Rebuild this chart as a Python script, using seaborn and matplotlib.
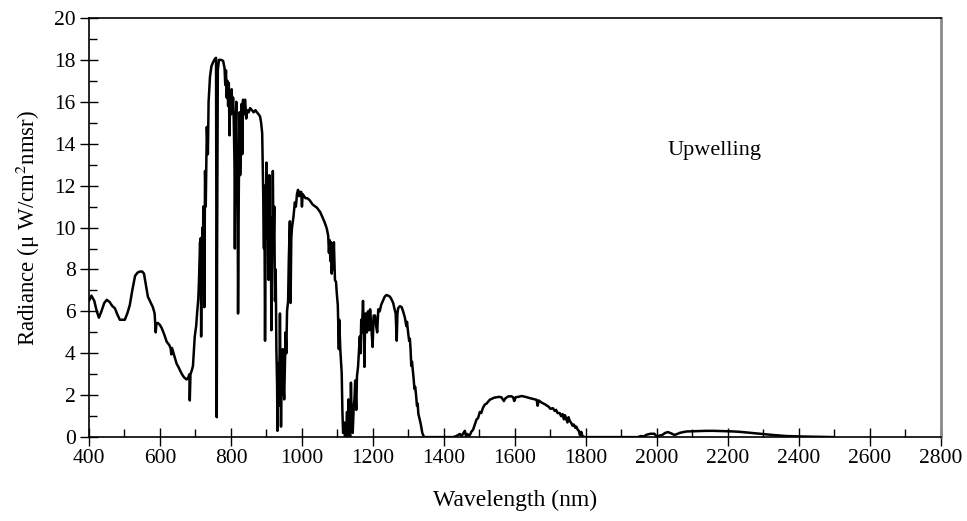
import matplotlib
matplotlib.use("Agg")
import matplotlib.pyplot as plt
from matplotlib.ticker import MultipleLocator
import pandas as pd
import seaborn as sns

# Upwelling spectral radiance, read as (wavelength nm, radiance)
wavelength = [
    400, 407, 415, 422, 428, 435, 443, 450, 458, 466, 473, 480, 487, 494, 501, 508,
    515, 522, 530, 537, 543, 550, 555, 560, 566, 573, 580, 585, 588, 590, 594, 600,
    605, 612, 619, 626, 630, 632, 634, 640, 647, 652, 656, 662, 668, 675, 680, 683,
    684, 686, 690, 693, 696, 698, 702, 705, 708, 710, 712, 713, 714, 715, 716, 718,
    720, 721, 722, 724, 725, 727, 729, 732, 735, 737, 741, 745, 750, 755, 758, 759,
    760, 761, 763, 766, 772, 778, 782, 784, 786, 788, 790, 792, 794, 796, 798, 800,
    802, 804, 806, 808, 810, 811, 813, 815, 817, 819, 820, 822, 824, 826, 828, 830,
    832, 834, 836, 838, 840, 843, 846, 850, 854, 859, 864, 869, 873, 878, 882, 885,
    888, 890, 891, 893, 894, 896, 898, 900, 902, 904, 906, 908, 910, 912, 914, 916,
    918, 920, 922, 924, 926, 928, 930, 931, 933, 935, 937, 938, 940, 941, 943, 946,
    948, 950, 952, 954, 956, 958, 961, 963, 966, 968, 970, 972, 976, 980, 983, 986,
    989, 992, 995, 998, 1000, 1002, 1006, 1010, 1015, 1022, 1030, 1038, 1042, 1051, 1059, 1065,
    1070, 1074, 1076, 1078, 1080, 1082, 1084, 1086, 1088, 1090, 1093, 1096, 1098, 1101, 1104, 1105,
    1108, 1112, 1114, 1116, 1119, 1121, 1124, 1127, 1129, 1131, 1133, 1136, 1138, 1140, 1143, 1146,
    1148, 1150, 1153, 1155, 1158, 1161, 1163, 1165, 1167, 1169, 1172, 1174, 1176, 1178, 1179, 1181,
    1183, 1185, 1186, 1189, 1192, 1195, 1199, 1202, 1206, 1209, 1212, 1215, 1219, 1223, 1228, 1233,
    1238, 1243, 1248, 1253, 1257, 1261, 1264, 1267, 1269, 1271, 1276, 1281, 1285, 1290, 1294, 1296,
    1299, 1302, 1304, 1306, 1308, 1310, 1314, 1317, 1319, 1321, 1324, 1326, 1328, 1331, 1335, 1339,
    1344, 1380, 1426, 1435, 1440, 1445, 1450, 1455, 1459, 1462, 1466, 1470, 1473, 1477, 1482, 1487,
    1492, 1496, 1501, 1505, 1510, 1515, 1520, 1525, 1529, 1535, 1541, 1548, 1555, 1562, 1566, 1569,
    1573, 1581, 1590, 1595, 1598, 1602, 1609, 1619, 1630, 1642, 1652, 1661, 1664, 1667, 1675, 1685,
    1695, 1700, 1707, 1712, 1716, 1720, 1726, 1730, 1734, 1738, 1741, 1744, 1748, 1751, 1755, 1758,
    1762, 1766, 1770, 1773, 1777, 1780, 1783, 1787, 1790, 1797, 1850, 1946, 1955, 1962, 1972, 1982,
    1993, 1998, 2003, 2008, 2015, 2023, 2031, 2040, 2050, 2057, 2064, 2074, 2084, 2100, 2112, 2125,
    2140, 2160, 2178, 2195, 2216, 2235, 2253, 2270, 2290, 2310, 2328, 2345, 2366, 2385, 2403, 2420,
    2441, 2470, 2497,
]
radiance = [
    6.5, 6.75, 6.5, 6.0, 5.7, 6.0, 6.4, 6.55, 6.45, 6.25, 6.15, 5.85, 5.6, 5.6, 5.6, 5.9,
    6.3, 7.0, 7.7, 7.85, 7.9, 7.9, 7.8, 7.3, 6.7, 6.45, 6.2, 5.9, 5.0, 5.4, 5.45, 5.35,
    5.2, 4.9, 4.55, 4.4, 4.25, 3.95, 4.25, 3.9, 3.5, 3.35, 3.2, 3.0, 2.85, 2.75, 2.85, 3.0,
    1.75, 3.0, 3.2, 3.4, 4.2, 4.8, 5.3, 6.0, 6.6, 7.5, 8.6, 9.3, 8.5, 9.5, 4.8, 8.8,
    10.0, 7.5, 11.0, 9.8, 6.2, 12.7, 11.0, 14.8, 13.5, 16.0, 17.2, 17.7, 17.9, 18.05, 18.1, 10.0,
    0.95, 9.0, 17.5, 18.0, 18.0, 17.95, 17.6, 16.8, 17.5, 16.2, 17.0, 15.8, 16.9, 14.4, 16.5, 15.4,
    16.6, 15.5, 16.2, 15.0, 13.0, 9.0, 14.5, 16.0, 12.5, 11.0, 5.9, 11.5, 15.5, 12.5, 14.0, 15.9,
    13.5, 16.1, 15.4, 16.0, 16.1, 15.2, 15.6, 15.5, 15.7, 15.6, 15.5, 15.6, 15.5, 15.4, 15.3, 15.0,
    14.5, 12.5, 11.5, 9.0, 12.0, 4.6, 10.0, 13.1, 9.5, 11.8, 7.5, 12.5, 8.0, 10.5, 5.1, 9.0,
    12.7, 9.0, 11.0, 6.5, 8.0, 4.2, 2.5, 0.3, 3.5, 1.5, 4.0, 5.9, 2.0, 0.5, 3.0, 4.2,
    2.5, 1.8, 3.5, 5.0, 4.0, 6.0, 6.5, 8.5, 10.3, 6.4, 9.5, 10.0, 10.5, 11.2, 11.0, 11.6,
    11.8, 11.5, 11.7, 11.7, 11.0, 11.6, 11.5, 11.4, 11.4, 11.3, 11.1, 11.0, 10.95, 10.75, 10.45, 10.2,
    9.95, 9.6, 8.8, 9.4, 8.4, 9.3, 7.8, 9.1, 8.0, 9.3, 7.5, 7.4, 6.9, 6.3, 4.2, 5.6,
    4.2, 3.05, 1.2, 0.2, 0.7, 0.0, 0.0, 1.2, 0.0, 1.8, 0.3, 0.0, 2.6, 1.0, 0.2, 1.5,
    1.8, 2.7, 1.3, 2.9, 3.35, 4.2, 4.8, 4.0, 5.6, 5.0, 6.5, 5.3, 3.35, 5.5, 5.9, 5.2,
    5.0, 5.8, 6.0, 5.1, 6.1, 5.4, 4.3, 5.8, 5.8, 5.3, 5.0, 6.1, 6.0, 6.3, 6.5, 6.7,
    6.78, 6.75, 6.7, 6.55, 6.4, 6.1, 5.9, 4.6, 5.9, 6.15, 6.25, 6.2, 6.0, 5.7, 5.3, 5.5,
    5.0, 4.6, 4.7, 4.2, 3.4, 3.6, 2.9, 2.3, 2.4, 2.1, 1.5, 1.6, 1.1, 0.9, 0.6, 0.2,
    0.0, 0.0, 0.0, 0.05, 0.1, 0.15, 0.05, 0.2, 0.3, 0.05, 0.15, 0.05, 0.1, 0.25, 0.35, 0.6,
    0.85, 0.9, 1.2, 1.15, 1.4, 1.55, 1.6, 1.7, 1.78, 1.83, 1.88, 1.9, 1.92, 1.9, 1.8, 1.72,
    1.85, 1.94, 1.95, 1.9, 1.72, 1.9, 1.92, 1.96, 1.92, 1.86, 1.82, 1.78, 1.5, 1.75, 1.65, 1.56,
    1.45, 1.35, 1.38, 1.25, 1.3, 1.15, 1.15, 1.0, 1.1, 0.85, 1.05, 0.9, 0.7, 0.95, 0.75, 0.7,
    0.55, 0.6, 0.45, 0.5, 0.35, 0.3, 0.1, 0.25, 0.05, 0.0, 0.0, 0.0, 0.05, 0.03, 0.12, 0.16,
    0.16, 0.05, 0.03, 0.08, 0.1, 0.2, 0.24, 0.18, 0.1, 0.15, 0.2, 0.24, 0.27, 0.28, 0.29, 0.3,
    0.3, 0.3, 0.29, 0.28, 0.27, 0.25, 0.22, 0.19, 0.16, 0.13, 0.1, 0.08, 0.05, 0.04, 0.03, 0.025,
    0.02, 0.01, 0.0,
]

x_ticks = list(range(400, 2801, 200))
y_ticks = list(range(0, 21, 2))

df = pd.DataFrame({"Wavelength": wavelength, "Radiance": radiance})

sns.set_theme(style="white")
plt.rcParams["font.family"] = ["Liberation Serif", "DejaVu Serif"]
plt.rcParams["mathtext.fontset"] = "stix"

fig = plt.figure(figsize=(9.67, 5.21), dpi=100)
ax = fig.add_axes([0.092, 0.161, 0.881, 0.8045])

sns.lineplot(data=df, x="Wavelength", y="Radiance", ax=ax, color="black",
             linewidth=1.8, estimator=None, sort=False)

ax.set_xlim(400, 2800)
ax.set_ylim(0, 20)
ax.set_xticks(x_ticks)
ax.set_yticks(y_ticks)
ax.set_xticklabels([str(t) for t in x_ticks])
ax.set_yticklabels([str(t) for t in y_ticks])
ax.xaxis.set_minor_locator(MultipleLocator(100))
ax.yaxis.set_minor_locator(MultipleLocator(1))

ax.tick_params(which="major", direction="inout", length=13, width=1.0,
               color="black", labelsize=15.5, labelcolor="black")
ax.tick_params(axis="x", which="major", pad=2)
ax.tick_params(axis="y", which="major", pad=3)
ax.tick_params(which="minor", direction="in", length=6, width=1.0, color="black")
ax.tick_params(axis="x", which="both", bottom=True, top=False)
ax.tick_params(axis="y", which="both", left=True, right=False)

for side in ("left", "bottom", "top"):
    ax.spines[side].set_color("black")
    ax.spines[side].set_linewidth(1.2)
ax.spines["right"].set_color("#8a8a8a")
ax.spines["right"].set_linewidth(2.0)

ax.set_xlabel("Wavelength (nm)", fontsize=17, color="black", labelpad=16)
ax.set_ylabel("Radiance (\u03bc W/cm$^2$nmsr)", fontsize=16.5, color="black", labelpad=9)

ax.text(2030, 13.7, "Upwelling", fontsize=16, color="black", ha="left", va="center")

fig.savefig("out.png", dpi=100, facecolor="white")
